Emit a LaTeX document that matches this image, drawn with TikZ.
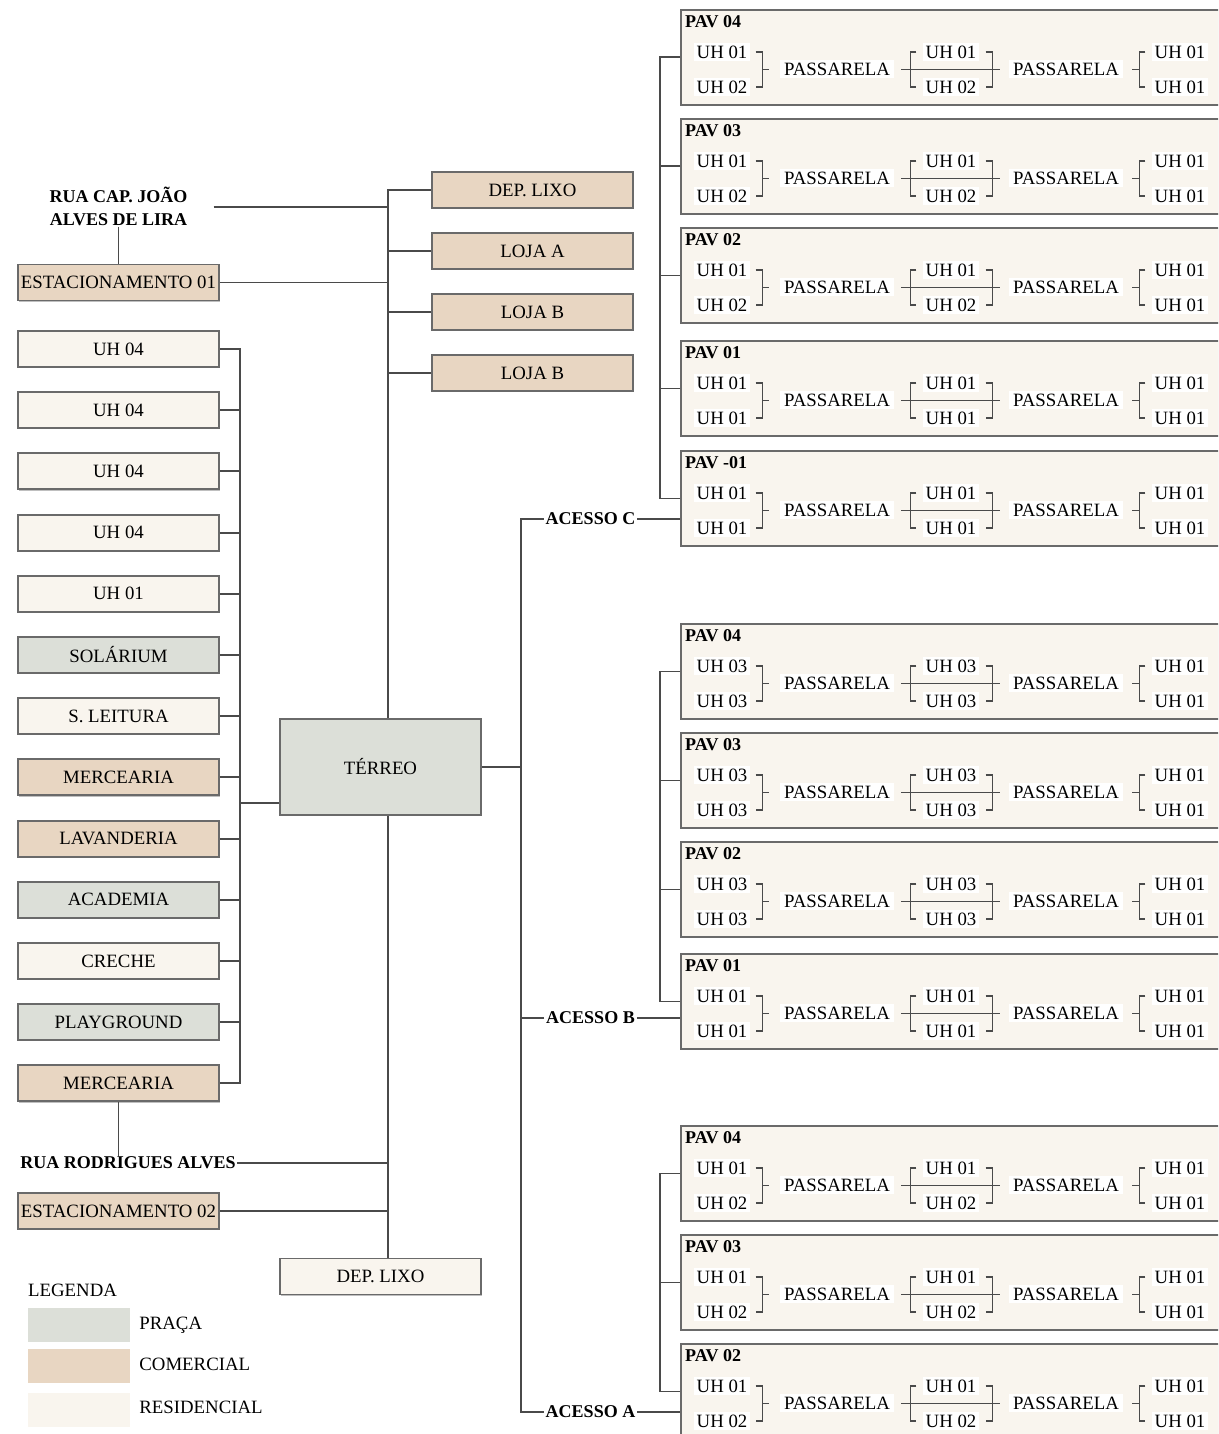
\documentclass[tikz,border=0pt]{standalone}
\usepackage{fontspec}
\setmainfont{Liberation Serif}
\usetikzlibrary{calc,shadows}

\definecolor{praca}{HTML}{DCDFD8}
\definecolor{comercial}{HTML}{E8D6C2}
\definecolor{residencial}{HTML}{F9F5EE}
\definecolor{fio}{HTML}{4A4A4A}
\definecolor{borda}{HTML}{6A6A6A}

\newcommand\caixafont{\fontsize{18.8}{21}\selectfont}
\newcommand\negritofont{\fontsize{18}{23}\selectfont\bfseries}

\tikzset{
	caixa/.style={draw=borda, line width=1.9pt, minimum width=201pt, minimum height=36pt, inner sep=0pt, font=\caixafont,
		drop shadow={shadow xshift=1.2pt, shadow yshift=-1.2pt, opacity=.25, fill=black}},
	pavbox/.style={caixa, fill=residencial, minimum width=560pt, minimum height=95pt, anchor=north west},
	pavtitulo/.style={font=\negritofont, inner sep=1pt, anchor=west},
	uh/.style={fill=white, inner xsep=3pt, inner ysep=3pt, font=\caixafont},
	passarela/.style={fill=white, inner xsep=4pt, inner ysep=3pt, font=\caixafont},
	rua/.style={font=\negritofont, inner sep=1pt, align=center},
	acesso/.style={font=\negritofont, inner sep=2pt},
	amostra/.style={minimum width=102pt, minimum height=34pt, inner sep=0pt},
	legenda/.style={font=\caixafont, inner sep=3pt, anchor=west},
	wire/.style={draw=fio, line width=1.9pt},
	chave/.style={draw=fio, line width=1.6pt}
}

% one floor: name, top, title, then the six units
\newcommand\pavimento[9]{%
	\node[pavbox] (#1) at (680,#2) {};
	\node[pavtitulo] (#1t) at (684,{#2+13}) {#3};
	\node[uh] (#1a) at (722,{#2+43}) {#4};
	\node[uh] (#1b) at (722,{#2+78}) {#5};
	\node[passarela] (#1p) at (837,{#2+60}) {PASSARELA};
	\node[uh] (#1c) at (951,{#2+43}) {#6};
	\node[uh] (#1d) at (951,{#2+78}) {#7};
	\node[passarela] (#1q) at (1066,{#2+60}) {PASSARELA};
	\node[uh] (#1e) at (1180,{#2+43}) {#8};
	\node[uh] (#1f) at (1180,{#2+78}) {#9};
	\draw[chave] ([xshift=5pt]#1a.east) -- ++(7,0) |- ([xshift=5pt]#1b.east);
	\draw[chave] ($(#1a.east)!.5!(#1b.east)+(12,0)$) -- ++(6,0);
	\draw[chave] ($(#1c.west)!.5!(#1d.west)+(-21,0)$) -- ($(#1c.east)!.5!(#1d.east)+(20,0)$);
	\draw[chave] ([xshift=-6pt]#1c.west) -- ++(-6,0) |- ([xshift=-6pt]#1d.west);
	\draw[chave] ([xshift=6pt]#1c.east) -- ++(7,0) |- ([xshift=6pt]#1d.east);
	\draw[chave] ([xshift=-6pt]#1e.west) -- ++(-6,0) |- ([xshift=-6pt]#1f.west);
	\draw[chave] ($(#1e.west)!.5!(#1f.west)+(-12,0)$) -- ++(-7,0);
}

\begin{document}
\begin{tikzpicture}[x=1pt, y=-1pt]
	\useasboundingbox (0,0) rectangle (1218,1434);
	\clip (0,0) rectangle (1218,1434);
	\coordinate (eixo) at (388,0);
	\coordinate (eixoL) at (240,0);
	\coordinate (eixoR) at (521,0);
	\coordinate (eixoP) at (660,0);

	% Ground floor and what hangs on it:
	\node[caixa, fill=praca, minimum height=96pt] (terreo) at (380.5,767) {TÉRREO};
	\node[caixa, fill=comercial] (lixo1) at (532.5,190) {DEP. LIXO};
	\node[caixa, fill=comercial] (lojaA) at (532.5,251) {LOJA A};
	\node[caixa, fill=comercial] (lojaB1) at (532.5,312) {LOJA B};
	\node[caixa, fill=comercial] (lojaB2) at (532.5,373) {LOJA B};
	\node[rua] (rua1) at (118.5,206) {RUA CAP. JOÃO\\ALVES DE LIRA};
	\node[caixa, fill=comercial] (est1) at (118.5,282.5) {ESTACIONAMENTO 01};
	\node[rua] (rua2) at (128,1163) {RUA RODRIGUES ALVES};
	\node[caixa, fill=comercial] (est2) at (118.5,1211) {ESTACIONAMENTO 02};
	\node[caixa, fill=residencial] (lixo2) at (380.5,1276.5) {DEP. LIXO};
	\foreach \txt/\cor [count=\i] in {UH 04/residencial, UH 04/residencial, UH 04/residencial, UH 04/residencial,
		UH 01/residencial, SOLÁRIUM/praca, S. LEITURA/residencial, MERCEARIA/comercial, LAVANDERIA/comercial,
		ACADEMIA/praca, CRECHE/residencial, PLAYGROUND/praca, MERCEARIA/comercial}
		\node[caixa, fill=\cor] (l\i) at (118.5,{349+61.2*(\i-1)}) {\txt};

	\draw[wire] (lixo1.west) -| (eixo |- terreo.north);
	\draw[wire] (terreo.south -| eixo) -- (eixo |- lixo2.north);
	\foreach \n in {lojaA, lojaB1, lojaB2}
		\draw[wire] (\n.west) -- (\n.west -| eixo);
	\foreach \n in {est1, est2, rua2}
		\draw[wire] (\n.east) -- (\n.east -| eixo);
	\coordinate (r1) at ([xshift=25pt,yshift=-1pt]rua1.east);
	\draw[wire] (r1) -- (r1 -| eixo);
	\draw[wire] (rua1.south) -- (est1.north);
	\draw[wire] (l13.south) -- (l13.south |- rua2.north);
	\draw[wire] (l1.east) -| (eixoL |- l13.east) -- (l13.east);
	\foreach \i in {2,...,12}
		\draw[wire] (l\i.east) -- (l\i.east -| eixoL);
	\draw[wire] ([yshift=13pt]terreo.south west) -- ([yshift=13pt]terreo.south west -| eixoL);

	% Accesses and floors:
	\node[acesso] (acC) at (590.5,519) {ACESSO C};
	\node[acesso] (acB) at (590.5,1018) {ACESSO B};
	\node[acesso] (acA) at (590.5,1412) {ACESSO A};
	\draw[wire] (terreo.east) -- (terreo.east -| eixoR);
	\draw[wire] (acC.west) -| (eixoR |- acA.west) -- (acA.west);
	\draw[wire] (acB.west) -- (acB.west -| eixoR);

	\pavimento{pc1}{9}{PAV 04}{UH 01}{UH 02}{UH 01}{UH 02}{UH 01}{UH 01}
	\pavimento{pc2}{118}{PAV 03}{UH 01}{UH 02}{UH 01}{UH 02}{UH 01}{UH 01}
	\pavimento{pc3}{227}{PAV 02}{UH 01}{UH 02}{UH 01}{UH 02}{UH 01}{UH 01}
	\pavimento{pc4}{340}{PAV 01}{UH 01}{UH 01}{UH 01}{UH 01}{UH 01}{UH 01}
	\pavimento{pc5}{450}{PAV -01}{UH 01}{UH 01}{UH 01}{UH 01}{UH 01}{UH 01}
	\pavimento{pb1}{623}{PAV 04}{UH 03}{UH 03}{UH 03}{UH 03}{UH 01}{UH 01}
	\pavimento{pb2}{732}{PAV 03}{UH 03}{UH 03}{UH 03}{UH 03}{UH 01}{UH 01}
	\pavimento{pb3}{841}{PAV 02}{UH 03}{UH 03}{UH 03}{UH 03}{UH 01}{UH 01}
	\pavimento{pb4}{953}{PAV 01}{UH 01}{UH 01}{UH 01}{UH 01}{UH 01}{UH 01}
	\pavimento{pa1}{1125}{PAV 04}{UH 01}{UH 02}{UH 01}{UH 02}{UH 01}{UH 01}
	\pavimento{pa2}{1234}{PAV 03}{UH 01}{UH 02}{UH 01}{UH 02}{UH 01}{UH 01}
	\pavimento{pa3}{1343}{PAV 02}{UH 01}{UH 02}{UH 01}{UH 02}{UH 01}{UH 01}

	\draw[wire] (acC.east) -- (acC.east -| pc5.west);
	\draw[wire] (acB.east) -- (acB.east -| pb4.west);
	\draw[wire] (acA.east) -- (acA.east -| pa3.west);
	\draw[wire] (pc1.west) -| (eixoP |- pc5.west) -- (pc5.west);
	\draw[wire] (pb1.west) -| (eixoP |- pb4.west) -- (pb4.west);
	\draw[wire] (pa1.west) -| (eixoP |- pa3.west) -- (pa3.west);
	\foreach \n in {pc2, pc3, pc4, pb2, pb3, pa2}
		\draw[wire] (\n.west) -- (\n.west -| eixoP);

	% Legend
	\node[legenda] (leg) at (25,1290) {LEGENDA};
	\node[amostra, fill=praca] (sw1) at (79,1325) {};
	\node[amostra, fill=comercial] (sw2) at (79,1366) {};
	\node[amostra, fill=residencial] (sw3) at (79,1409.5) {};
	\node[legenda] (lg1) at ([xshift=6pt]sw1.east) {PRAÇA};
	\node[legenda] (lg2) at ([xshift=6pt,yshift=2pt]sw2.east) {COMERCIAL};
	\node[legenda] (lg3) at ([xshift=6pt,yshift=2pt]sw3.east) {RESIDENCIAL};
\end{tikzpicture}
\end{document}
